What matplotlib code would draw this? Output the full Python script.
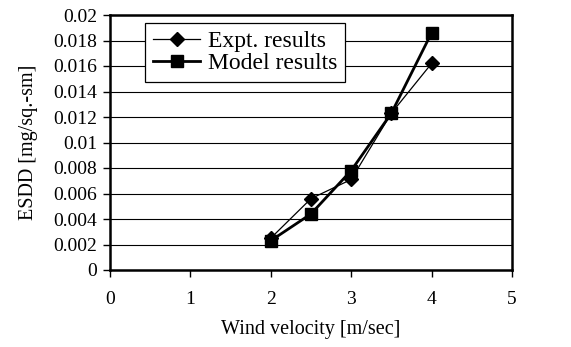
import matplotlib
matplotlib.use("Agg")
import matplotlib.pyplot as plt

wind = [2, 2.5, 3, 3.5, 4]
expt = [0.0025, 0.0056, 0.0071, 0.0123, 0.0162]
model = [0.0023, 0.0044, 0.0078, 0.0123, 0.0186]
xticks = [0, 1, 2, 3, 4, 5]
yticks = [0, 0.002, 0.004, 0.006, 0.008, 0.01, 0.012, 0.014, 0.016, 0.018, 0.02]
ylabels = ["0", "0.002", "0.004", "0.006", "0.008", "0.01", "0.012", "0.014", "0.016", "0.018", "0.02"]

plt.rcParams['font.family'] = ['Liberation Serif', 'DejaVu Serif']
fig = plt.figure(figsize=(5.71, 3.47), dpi=100)
ax = fig.add_axes([110/571, 1-270/347, 402/571, 255/347])

ax.plot(wind, expt, color='black', lw=0.9, marker='D', ms=7, label='Expt. results')
ax.plot(wind, model, color='black', lw=2.0, marker='s', ms=8, label='Model results')

ax.set_xlim(0, 5)
ax.set_ylim(0, 0.02)
ax.set_xticks(xticks)
ax.set_yticks(yticks)
ax.set_yticklabels(ylabels)
ax.yaxis.grid(True, color='black', lw=0.8)
ax.set_axisbelow(True)
for s in ax.spines.values():
    s.set_linewidth(1.8)
ax.tick_params(axis='both', direction='out', length=5, width=1, labelsize=14, colors='black')
ax.tick_params(axis='x', pad=10)
ax.tick_params(axis='y', pad=4)
ax.set_xlabel('Wind velocity [m/sec]', fontsize=14.5, labelpad=9)
ax.set_ylabel('ESDD [mg/sq.-sm]', fontsize=14.5, labelpad=11)

leg = ax.legend(loc='upper left', bbox_to_anchor=(0.087, 0.97), fontsize=17,
                frameon=True, fancybox=False, edgecolor='black', framealpha=1,
                handlelength=2.0, borderpad=0.35, labelspacing=0.0, handletextpad=0.3,
                borderaxespad=0)
leg.get_frame().set_linewidth(0.9)

fig.savefig('out.png', dpi=100)
